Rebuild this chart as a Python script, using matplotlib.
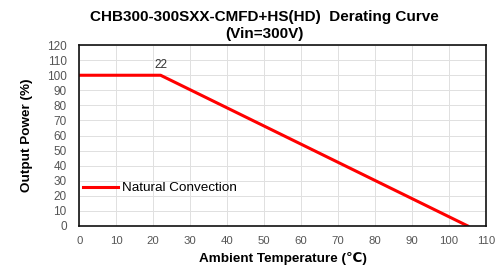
import matplotlib
matplotlib.use("Agg")
import matplotlib.pyplot as plt

temp = [0, 22, 105]
power = [100, 100, 0]
xticks = list(range(0, 111, 10))
yticks = list(range(0, 121, 10))

plt.rcParams['font.family'] = ['Liberation Sans', 'DejaVu Sans']

fig = plt.figure(figsize=(4.95, 2.67), dpi=100)
ax = fig.add_axes([0.160, 0.154, 0.822, 0.677])

ax.plot(temp, power, color='#ff0000', lw=2.2, label='Natural Convection')
ax.text(22, 102.5, '22', fontsize=8.5, ha='center', va='bottom', color='#333333')

ax.set_xlim(0, 110)
ax.set_ylim(0, 120)
ax.set_xticks(xticks)
ax.set_yticks(yticks)
ax.grid(True, color='#e0e0e0', lw=0.7)
ax.set_axisbelow(True)
ax.tick_params(axis='y', length=0, labelsize=8.5, labelcolor='#555555', pad=9)
ax.tick_params(axis='x', length=0, labelsize=8.2, labelcolor='#555555', pad=7)
for s in ax.spines.values():
    s.set_color('#111111')
    s.set_linewidth(1.2)

ax.set_xlabel('Ambient Temperature (℃)', fontsize=9.7, fontweight='bold', labelpad=4.5)
ax.set_ylabel('Output Power (%)', fontsize=9.7, fontweight='bold', labelpad=10)
ax.set_title('CHB300-300SXX-CMFD+HS(HD)  Derating Curve\n(Vin=300V)',
             fontsize=11, fontweight='bold', pad=5, linespacing=1.25, x=0.456)

ax.legend(loc='center left', bbox_to_anchor=(0.0, 25 / 120), frameon=False,
          fontsize=9.7, handlelength=2.6, handletextpad=0.3, borderaxespad=0.3,
          borderpad=0.0)

fig.savefig('out.png', dpi=100)
